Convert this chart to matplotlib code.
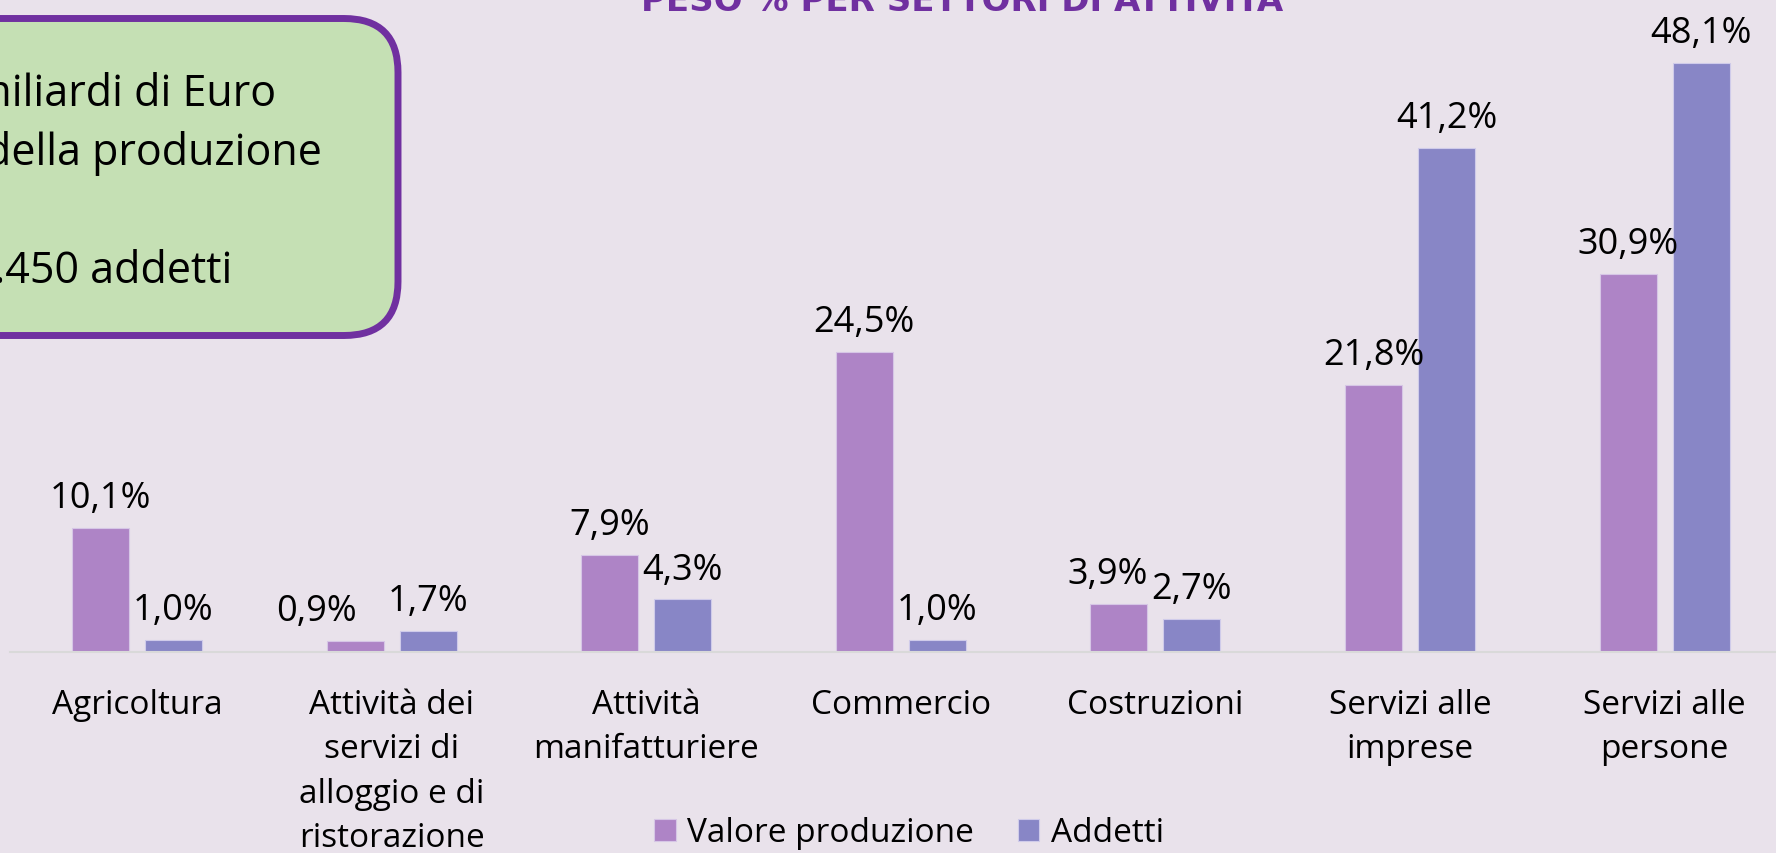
import matplotlib.pyplot as plt
from matplotlib.patches import FancyBboxPatch
from matplotlib.transforms import IdentityTransform
import numpy as np

# data
categories = ['Agricoltura', 'Attività dei\nservizi di\nalloggio e di\nristorazione',
              'Attività\nmanifatturiere', 'Commercio', 'Costruzioni',
              'Servizi alle\nimprese', 'Servizi alle\npersone']
valore = [10.1, 0.9, 7.9, 24.5, 3.9, 21.8, 30.9]
addetti = [1.0, 1.7, 4.3, 1.0, 2.7, 41.2, 48.1]
series_names = ['Valore produzione', 'Addetti']

box_lines = ['miliardi di Euro', 'della produzione', '.450 addetti']
title = 'PESO % PER SETTORI DI ATTIVITÀ'

bg = '#e9e2eb'
col_val = '#ae84c6'
col_add = '#8886c6'
purple = '#7030a0'

plt.rcParams['font.family'] = ['Open Sans', 'DejaVu Sans']

W, H = 1776, 854
fig = plt.figure(figsize=(W / 100, H / 100), dpi=100, facecolor=bg)

# axes: baseline at y=653 px, category band starts at x~9.7, 254.6 px per category
left = 9.7
step = 254.6
ax = fig.add_axes([left / W, (H - 653) / H, 7 * step / W, 653 / H])
ax.set_facecolor(bg)
ax.patch.set_alpha(0)

x = np.arange(len(categories))
w = 0.224
off = 0.1434
b1 = ax.bar(x - off, valore, w, color=col_val, edgecolor='#d6c6e6', linewidth=0.8, label=series_names[0])
b2 = ax.bar(x + off, addetti, w, color=col_add, edgecolor='#cfcbea', linewidth=0.8, label=series_names[1])

ax.set_xlim(-0.5, len(categories) - 0.5)
ax.set_ylim(0, 653 / 12.245)

# label nudges (points) where the original moved a label sideways
nudge = {(0, 1): -28, (0, 4): -8}
for si, (bars, vals) in enumerate([(b1, valore), (b2, addetti)]):
    for ci, (r, v) in enumerate(zip(bars, vals)):
        ax.annotate(f'{v:.1f}%'.replace('.', ','), (r.get_x() + r.get_width() / 2, v),
                    xytext=(nudge.get((si, ci), 0), 15), textcoords='offset points',
                    ha='center', va='baseline', fontsize=26, color='black')

ax.set_xticks(x)
ax.set_xticklabels(categories, fontsize=24, linespacing=1.45)
ax.tick_params(axis='x', length=0, pad=26)
ax.set_yticks([])
for s in ['top', 'right', 'left']:
    ax.spines[s].set_visible(False)
ax.spines['bottom'].set_color('#d9d9d9')
ax.spines['bottom'].set_linewidth(1.5)

leg = fig.legend(loc='center', bbox_to_anchor=(909 / W, 1 - 834 / H), ncol=2, frameon=False,
                 fontsize=24, handlelength=0.64, handleheight=0.64, handletextpad=0.35,
                 columnspacing=1.3, borderpad=0.1)

# info box, cut off on the left (pixel coordinates)
box = FancyBboxPatch((-200, H - 336.5), 598, 317, boxstyle='round,pad=0,rounding_size=54',
                     transform=IdentityTransform(), facecolor='#c5e0b4', edgecolor=purple,
                     linewidth=5)
fig.patches.append(box)
fig.text(276 / W, 1 - 106 / H, box_lines[0], ha='right', va='baseline', fontsize=31)
fig.text(322 / W, 1 - 165 / H, box_lines[1], ha='right', va='baseline', fontsize=31)
fig.text(232 / W, 1 - 283 / H, box_lines[2], ha='right', va='baseline', fontsize=31)

fig.text(962 / W, 1 - 11 / H, title, ha='center', va='baseline', fontsize=24.5,
         fontweight='bold', color=purple, family=['Liberation Sans Narrow', 'DejaVu Sans'])

fig.savefig('out.png', dpi=100, facecolor=bg)
